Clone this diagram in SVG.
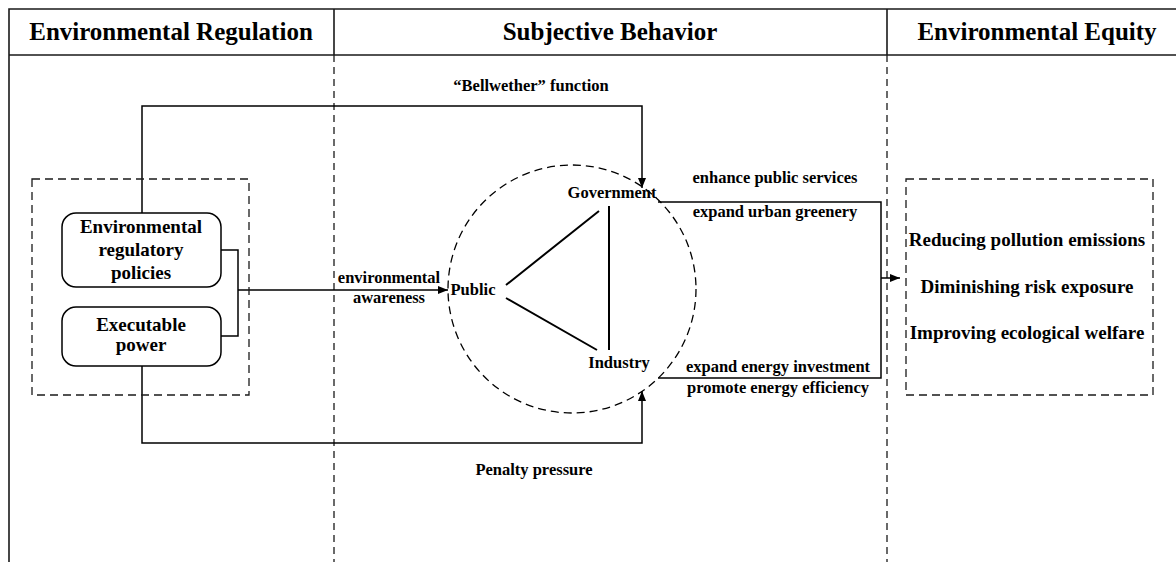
<svg xmlns="http://www.w3.org/2000/svg" width="1176" height="562" viewBox="0 0 1176 562">
<defs>
<marker id="arr" viewBox="0 0 10 10" refX="10" refY="5" markerWidth="10" markerHeight="10" markerUnits="userSpaceOnUse" orient="auto">
<path d="M0,1 L10,5 L0,9 z" fill="#000"/>
</marker>
<style>
text{font-family:"Liberation Serif","Times New Roman",serif;font-weight:bold;fill:#000;text-anchor:middle}
.hd{font-size:25px}
.nd{font-size:19px}
.lb{font-size:16.5px}
.frame{stroke:#1a1a1a;stroke-width:1.6;fill:none}
.sep{stroke:#1a1a1a;stroke-width:1.3;fill:none;stroke-dasharray:7,5}
.dbox{stroke:#1a1a1a;stroke-width:1.3;fill:none;stroke-dasharray:8,5}
.conn{stroke:#000;stroke-width:1.5;fill:none}
.tri{stroke:#000;stroke-width:2;fill:none}
.rr{stroke:#000;stroke-width:1.5;fill:#fff}
</style>
</defs>
<rect width="1176" height="562" fill="#fff"/>
<g id="frame">
<path class="frame" d="M9,562 V9 H1176 M9,55 H1176 M334,9 V55 M887,9 V55"/>
<path class="sep" d="M334,55 V562 M887,55 V562"/>
<text class="hd" x="171" y="40">Environmental Regulation</text>
<text class="hd" x="610" y="40">Subjective Behavior</text>
<text class="hd" x="1037" y="40">Environmental Equity</text>
</g>
<g id="connectors">
<path class="conn" d="M142,213 V106 H642 V188" marker-end="url(#arr)"/>
<path class="conn" d="M142,366 V443 H642 V391" marker-end="url(#arr)"/>
<path class="conn" d="M221,250 H238 V336 H221 M238,290 H448" marker-end="url(#arr)"/>
<path class="conn" d="M658,202 H881 V378 H658 M881,278 H900" marker-end="url(#arr)"/>
<path class="tri" d="M506,285 L599,211 M506,298 L597,350 M609,206 V350"/>
<text class="lb" x="531" y="91">“Bellwether” function</text>
<text class="lb" x="534" y="475">Penalty pressure</text>
<text class="lb" x="389" y="283">environmental</text>
<text class="lb" x="389" y="303">awareness</text>
<text class="lb" x="775" y="183">enhance public services</text>
<text class="lb" x="775" y="217">expand urban greenery</text>
<text class="lb" x="778" y="372">expand energy investment</text>
<text class="lb" x="778" y="393">promote energy efficiency</text>
</g>
<g id="regulation-box">
<rect class="dbox" x="32" y="179" width="217" height="216"/>
</g>
<g id="node-policies">
<rect class="rr" x="62" y="213" width="159" height="74" rx="14"/>
<text class="nd" x="141" y="233">Environmental</text>
<text class="nd" x="141" y="256">regulatory</text>
<text class="nd" x="141" y="279">policies</text>
</g>
<g id="node-power">
<rect class="rr" x="62" y="307" width="159" height="59" rx="14"/>
<text class="nd" x="141" y="331">Executable</text>
<text class="nd" x="141" y="351">power</text>
</g>
<g id="node-circle">
<circle cx="572" cy="289" r="124" fill="none" stroke="#000" stroke-width="1.3" stroke-dasharray="8,5"/>
</g>
<g id="node-government"><text class="lb" x="612" y="198">Government</text></g>
<g id="node-public"><text class="lb" x="473" y="295">Public</text></g>
<g id="node-industry"><text class="lb" x="619" y="368">Industry</text></g>
<g id="node-equity">
<rect class="dbox" x="906" y="179" width="247" height="216"/>
<text class="nd" x="1027" y="246">Reducing pollution emissions</text>
<text class="nd" x="1027" y="293">Diminishing risk exposure</text>
<text class="nd" x="1027" y="339">Improving ecological welfare</text>
</g>
</svg>
